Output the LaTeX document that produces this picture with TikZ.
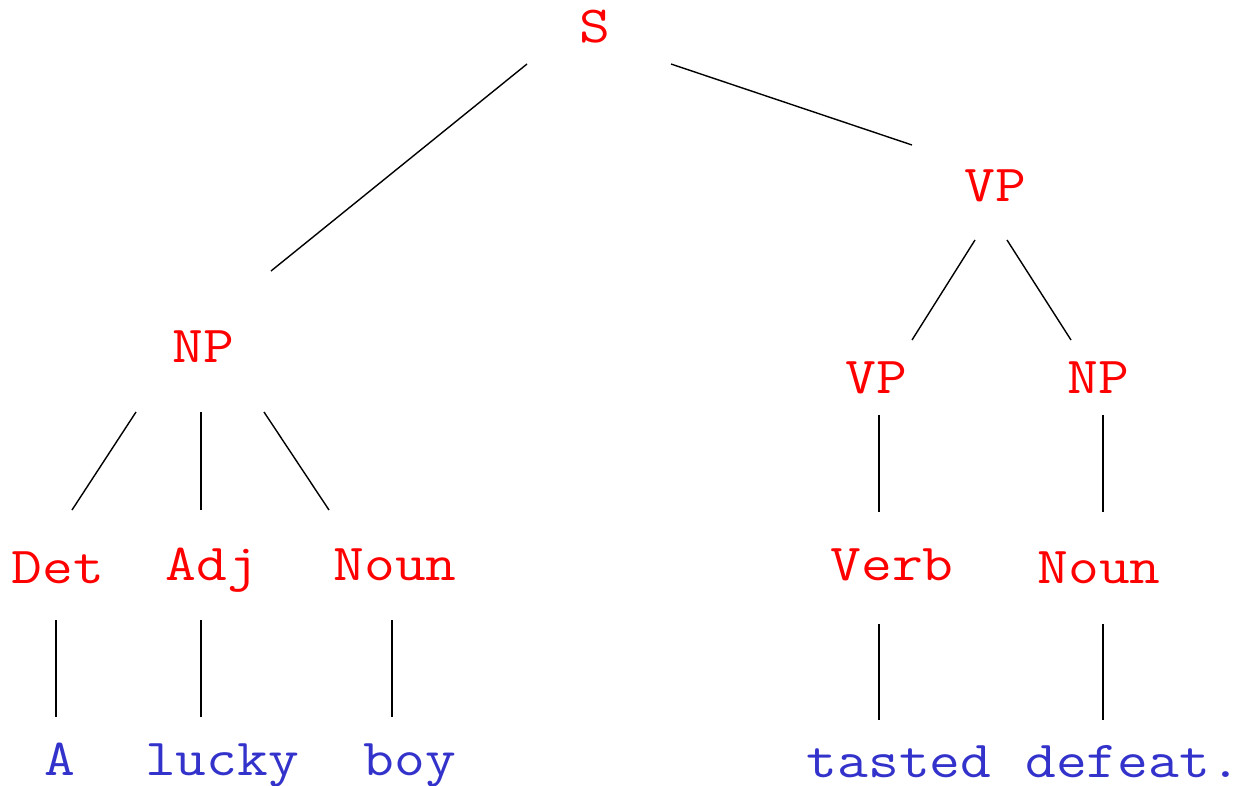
\documentclass[tikz,border=0pt]{standalone}
\usepackage{fontspec}
\newfontfamily\courlike{Latin Modern Mono}[FakeStretch=1.15]
\usetikzlibrary{calc}
\definecolor{catred}{RGB}{255,0,0}
\definecolor{wordblue}{RGB}{51,51,204}
\tikzset{
  cat/.style={inner sep=0pt, anchor=base, text=catred, font=\fontsize{52}{60}\selectfont\courlike},
  word/.style={inner sep=0pt, anchor=base, text=wordblue, font=\fontsize{52}{60}\selectfont\courlike},
  edge/.style={draw=black, line width=1.4pt}
}
\begin{document}
\begin{tikzpicture}[x=1pt,y=-1pt]
\useasboundingbox (0,0) rectangle (1247,785);
\node[cat] (S) at (595,42) {S};
\node[cat] (VP) at (995,201) {VP};
\node[cat] (NP) at (203,362) {NP};
\node[cat] (VPb) at (876,393) {VP};
\node[cat] (NPb) at (1098,393) {NP};
\node[cat] (Det) at (58,583) {Det};
\node[cat] (Adj) at (212,580) {Adj};
\node[cat] (NounA) at (395,580) {Noun};
\node[cat] (Verb) at (892,580) {Verb};
\node[cat] (NounB) at (1099,583) {Noun};
\node[word] (wA) at (60,775) {A};
\node[word] (wlucky) at (222,775) {lucky};
\node[word] (wboy) at (410,775) {boy};
\node[word] (wtasted) at (899,777) {tasted};
\node[word] (wdefeat) at (1133,777) {defeat.};

\draw[edge] ($(S.base)+(-68,22)$) -- ($(NP.base)+(68,-91)$);
\draw[edge] ($(S.base)+(76,22)$) -- ($(VP.base)+(-83,-56)$);
\draw[edge] ($(VP.base)+(-20,39)$) -- ($(VPb.base)+(36,-53)$);
\draw[edge] ($(VP.base)+(12,39)$) -- ($(NPb.base)+(-27,-53)$);
\draw[edge] ($(NP.base)+(-67,50)$) -- ($(Det.base)+(14,-73)$);
\draw[edge] ($(NP.base)+(-2,50)$) -- ($(Adj.base)+(-11,-70)$);
\draw[edge] ($(NP.base)+(61,50)$) -- ($(NounA.base)+(-66,-70)$);
\draw[edge] ($(VPb.base)+(3,22)$) -- ($(Verb.base)+(-13,-68)$);
\draw[edge] ($(NPb.base)+(5,22)$) -- ($(NounB.base)+(4,-71)$);
\draw[edge] ($(Det.base)+(-2,37)$) -- ($(wA.base)+(-4,-58)$);
\draw[edge] ($(Adj.base)+(-11,40)$) -- ($(wlucky.base)+(-21,-58)$);
\draw[edge] ($(NounA.base)+(-3,40)$) -- ($(wboy.base)+(-18,-58)$);
\draw[edge] ($(Verb.base)+(-13,44)$) -- ($(wtasted.base)+(-20,-57)$);
\draw[edge] ($(NounB.base)+(4,41)$) -- ($(wdefeat.base)+(-30,-57)$);
\end{tikzpicture}
\end{document}
